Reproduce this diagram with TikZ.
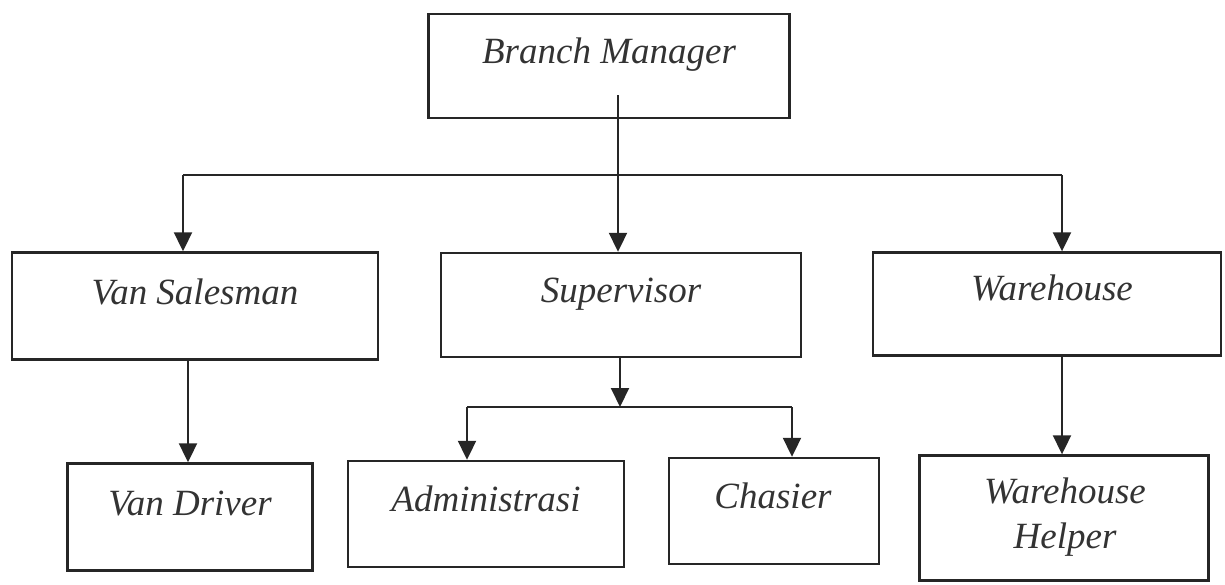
\documentclass[tikz,border=0pt]{standalone}
\usepackage{fontspec}
\setmainfont{Liberation Serif}
\usetikzlibrary{arrows.meta}
\begin{document}
\begin{tikzpicture}[x=1pt,y=-1pt,
  box/.style={draw=black!85, line width=2.4pt, inner sep=0pt, rectangle},
  lbl/.style={inner sep=0pt, anchor=base, text=black!80, font=\fontsize{37}{45}\selectfont\itshape, align=center},
  conn/.style={draw=black!85, line width=2pt},
  arr/.style={conn, -{Triangle[width=18pt,length=19pt]}}]
\useasboundingbox (0,0) rectangle (1225,584);
% boxes
\node[box, minimum width=361pt, minimum height=104pt] (bm) at (609,66) {};
\node[box, minimum width=366pt, minimum height=107pt] (vs) at (195,306) {};
\node[box, minimum width=360pt, minimum height=104pt] (sup) at (621,305) {};
\node[box, minimum width=348pt, minimum height=103pt] (wh) at (1047,304) {};
\node[box, minimum width=245pt, minimum height=107pt] (vd) at (190,517) {};
\node[box, minimum width=276pt, minimum height=106pt] (adm) at (486,514) {};
\node[box, minimum width=210pt, minimum height=106pt] (cha) at (774,511) {};
\node[box, minimum width=289pt, minimum height=125pt] (whh) at (1064,518) {};
% labels
\node[lbl] (bmt) at (609,63) {Branch Manager};
\node[lbl] (vst) at (195,304) {Van Salesman};
\node[lbl] (supt) at (621,302) {Supervisor};
\node[lbl] (wht) at (1052,300) {Warehouse};
\node[lbl] (vdt) at (190,515) {Van Driver};
\node[lbl] (admt) at (486,511) {Administrasi};
\node[lbl] (chat) at (773,508) {Chasier};
\node[lbl] (whht) at (1065,503) {Warehouse};
\node[lbl] (whht2) at (1065,548) {Helper};
% junctions
\coordinate (bmin) at (618,95);
\coordinate (j1) at (183,175);
\coordinate (j2) at (1062,175);
\coordinate (s0) at (620,357);
\coordinate (sj) at (620,407);
\coordinate (s1) at (467,407);
\coordinate (s2) at (792,407);
% connectors
\draw[arr] (bmin) -- (bmin |- sup.north);
\draw[conn] (j1) -- (j2);
\draw[arr] (j1) -- (j1 |- vs.north);
\draw[arr] (j2) -- (j2 |- wh.north);
\draw[arr] (188,0 |- vs.south) -- (188,0 |- vd.north);
\draw[arr] (s0) -- (sj);
\draw[conn] (s1) -- (s2);
\draw[arr] (s1) -- (s1 |- adm.north);
\draw[arr] (s2) -- (s2 |- cha.north);
\draw[arr] (1062,0 |- wh.south) -- (1062,0 |- whh.north);
\end{tikzpicture}
\end{document}
